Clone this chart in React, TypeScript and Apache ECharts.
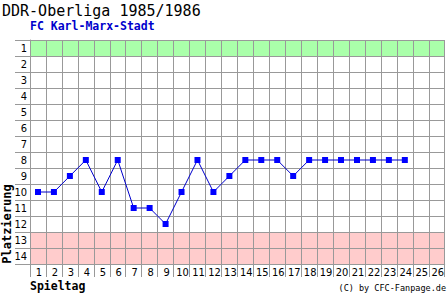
import React, { useEffect, useRef } from 'react';
import * as echarts from 'echarts';

const chartTitle = 'DDR-Oberliga 1985/1986';
const teamName = 'FC Karl-Marx-Stadt';
const xAxisName = 'Spieltag';
const yAxisName = 'Platzierung';
const credit = '(C) by CFC-Fanpage.de';

const spieltage = ['1', '2', '3', '4', '5', '6', '7', '8', '9', '10', '11', '12', '13', '14', '15', '16', '17', '18', '19', '20', '21', '22', '23', '24', '25', '26'];
const platzierungen = ['1', '2', '3', '4', '5', '6', '7', '8', '9', '10', '11', '12', '13', '14'];
const positions = [10, 10, 9, 8, 10, 8, 11, 11, 12, 10, 8, 10, 9, 8, 8, 8, 9, 8, 8, 8, 8, 8, 8, 8];
const greenRows = ['1'];
const redRows = ['13', '14'];

const GRID = '#999999';
const GREEN = '#aaffaa';
const RED = '#ffcccc';
const MONO = '"DejaVu Sans Mono", monospace';
const LABEL_FONT = '"DejaVu Sans Condensed", "DejaVu Sans", sans-serif';

export default function App() {
  const ref = useRef<HTMLDivElement>(null);

  useEffect(() => {
    if (!ref.current) return;
    const chart = echarts.init(ref.current, undefined, { renderer: 'svg' });
    const bandColors = platzierungen.map((p) =>
      greenRows.includes(p) ? GREEN : redRows.includes(p) ? RED : '#ffffff'
    );
    const data = positions.map((p, i) => [i, platzierungen.indexOf(String(p))]);

    chart.setOption({
      animation: false,
      grid: { left: 30, top: 40, width: 416, height: 224, containLabel: false },
      xAxis: {
        type: 'category',
        data: spieltage,
        boundaryGap: true,
        z: 1,
        axisLine: { show: true, lineStyle: { color: GRID, width: 1 } },
        axisTick: { show: true, length: 13, interval: 0, alignWithLabel: false, lineStyle: { color: GRID, width: 1 } },
        axisLabel: { interval: 0, margin: 3, fontSize: 11, color: '#000', fontFamily: LABEL_FONT, padding: [0, 0, 0, 2] },
        splitLine: { show: true, interval: 0, lineStyle: { color: GRID, width: 1 } },
      },
      yAxis: {
        type: 'category',
        data: platzierungen,
        inverse: true,
        boundaryGap: true,
        z: 0,
        axisLine: { show: true, lineStyle: { color: GRID, width: 1 } },
        axisTick: { show: true, length: 15, interval: 0, alignWithLabel: false, lineStyle: { color: GRID, width: 1 } },
        axisLabel: { interval: 0, margin: 3, fontSize: 11, color: '#000', fontFamily: LABEL_FONT },
        splitLine: { show: true, interval: 0, lineStyle: { color: GRID, width: 1 } },
        splitArea: { show: true, interval: 0, areaStyle: { color: bandColors } },
      },
      series: [
        {
          type: 'line',
          data,
          symbol: 'rect',
          symbolSize: 6,
          showAllSymbol: true,
          itemStyle: { color: '#0000ff' },
          lineStyle: { color: '#0000cc', width: 1 },
          z: 5,
        },
      ],
      graphic: [
        {
          type: 'text',
          x: 2,
          y: 10.5,
          style: { text: chartTitle, font: `15px ${MONO}`, fill: '#000', align: 'left', verticalAlign: 'middle', textAlign: 'left', textVerticalAlign: 'middle' },
        },
        {
          type: 'text',
          x: 30,
          y: 26,
          style: { text: teamName, font: `bold 11.5px ${MONO}`, fill: '#0000cc', align: 'left', verticalAlign: 'middle', textAlign: 'left', textVerticalAlign: 'middle' },
        },
        {
          type: 'text',
          x: 30,
          y: 286,
          style: { text: xAxisName, font: `bold 11.5px ${MONO}`, fill: '#000', align: 'left', verticalAlign: 'middle', textAlign: 'left', textVerticalAlign: 'middle' },
        },
        {
          type: 'text',
          x: 7,
          y: 224,
          rotation: Math.PI / 2,
          style: { text: yAxisName, font: `bold 12px ${MONO}`, fill: '#000', align: 'center', verticalAlign: 'middle', textAlign: 'center', textVerticalAlign: 'middle' },
        },
        {
          type: 'text',
          x: 446,
          y: 287.5,
          style: { text: credit, font: `8.5px ${MONO}`, fill: '#000', align: 'right', verticalAlign: 'middle', textAlign: 'right', textVerticalAlign: 'middle' },
        },
      ],
    });
    return () => chart.dispose();
  }, []);

  return (
    <div
      ref={ref}
      style={{ position: 'fixed', left: 0, top: 0, width: 447, height: 295, background: '#ffffff' }}
    />
  );
}
